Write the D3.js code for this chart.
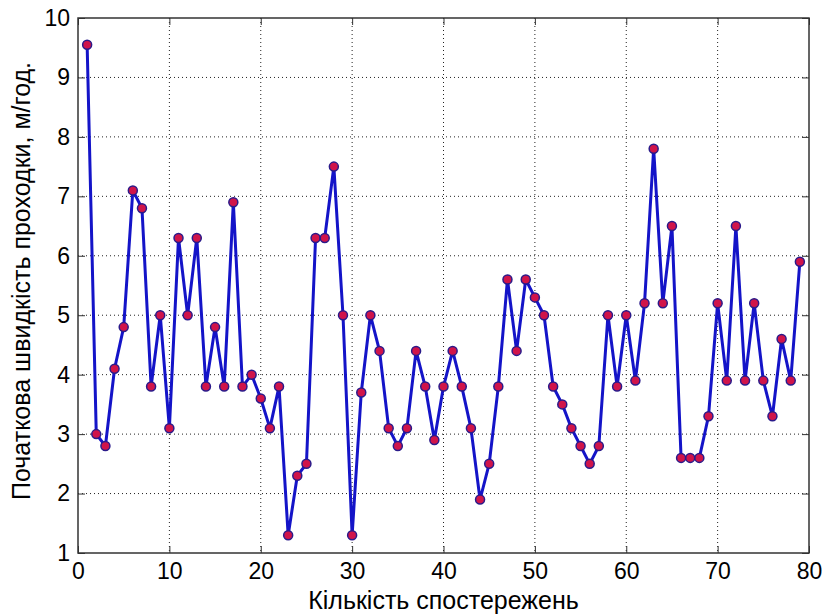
<!DOCTYPE html>
<html>
<head>
<meta charset="utf-8">
<script src="https://cdn.jsdelivr.net/npm/d3@7"></script>
<style>
  body { margin: 0; background: #fff; }
  text { font-family: "Liberation Sans", Arial, sans-serif; fill: #000; }
</style>
</head>
<body>
<svg id="chart" width="827" height="614"></svg>
<script>
// observation numbers 1..79 and measured speed (m/h)
var observations = d3.range(1, 80);
var speeds = [9.55, 3.0, 2.8, 4.1, 4.8, 7.1, 6.8, 3.8, 5.0, 3.1,
              6.3, 5.0, 6.3, 3.8, 4.8, 3.8, 6.9, 3.8, 4.0, 3.6,
              3.1, 3.8, 1.3, 2.3, 2.5, 6.3, 6.3, 7.5, 5.0, 1.3,
              3.7, 5.0, 4.4, 3.1, 2.8, 3.1, 4.4, 3.8, 2.9, 3.8,
              4.4, 3.8, 3.1, 1.9, 2.5, 3.8, 5.6, 4.4, 5.6, 5.3,
              5.0, 3.8, 3.5, 3.1, 2.8, 2.5, 2.8, 5.0, 3.8, 5.0,
              3.9, 5.2, 7.8, 5.2, 6.5, 2.6, 2.6, 2.6, 3.3, 5.2,
              3.9, 6.5, 3.9, 5.2, 3.9, 3.3, 4.6, 3.9, 5.9];
var xTicks = [0, 10, 20, 30, 40, 50, 60, 70, 80];
var yTicks = [1, 2, 3, 4, 5, 6, 7, 8, 9, 10];
var xLabel = "Кількість спостережень";
var yLabel = "Початкова швидкість проходки, м/год.";

(function(){
	var svg = d3.select('#chart');
	var pl = 78, pr = 809, pt = 18, pb = 553;

	var x = d3.scaleLinear().domain([0, 80]).range([pl, pr]);
	var y = d3.scaleLinear().domain([1, 10]).range([pb, pt]);

	// dotted grid
	svg.append('g').selectAll('line')
		.data(xTicks.slice(1, -1))
	  .enter().append('line')
		.attr('x1', function(d){ return x(d); })
		.attr('x2', function(d){ return x(d); })
		.attr('y1', pt).attr('y2', pb)
		.attr('stroke', '#222').attr('stroke-width', 1)
		.attr('stroke-dasharray', '1,3');
	svg.append('g').selectAll('line')
		.data(yTicks.slice(1, -1))
	  .enter().append('line')
		.attr('y1', function(d){ return y(d); })
		.attr('y2', function(d){ return y(d); })
		.attr('x1', pl).attr('x2', pr)
		.attr('stroke', '#222').attr('stroke-width', 1)
		.attr('stroke-dasharray', '1,3');

	// axes with inward ticks on all four sides
	var tickLen = 7;
	svg.append('g')
		.attr('transform', 'translate(0,' + pb + ')')
		.call(d3.axisBottom(x).tickValues(xTicks).tickSizeInner(-tickLen).tickSizeOuter(0).tickPadding(10))
		.call(function(g){ g.selectAll('text').attr('font-size', 23); });
	svg.append('g')
		.attr('transform', 'translate(0,' + pt + ')')
		.call(d3.axisTop(x).tickValues(xTicks).tickSizeInner(-tickLen).tickSizeOuter(0).tickFormat(''));
	svg.append('g')
		.attr('transform', 'translate(' + pl + ',0)')
		.call(d3.axisLeft(y).tickValues(yTicks).tickSizeInner(-tickLen).tickSizeOuter(0).tickPadding(8))
		.call(function(g){ g.selectAll('text').attr('font-size', 23); });
	svg.append('g')
		.attr('transform', 'translate(' + pr + ',0)')
		.call(d3.axisRight(y).tickValues(yTicks).tickSizeInner(-tickLen).tickSizeOuter(0).tickFormat(''));
	svg.selectAll('.domain').remove();
	svg.selectAll('.tick line').attr('stroke', '#333');

	svg.append('rect')
		.attr('x', pl).attr('y', pt)
		.attr('width', pr - pl).attr('height', pb - pt)
		.attr('fill', 'none').attr('stroke', '#333').attr('stroke-width', 1.5);

	// series line
	var line = d3.line()
		.x(function(d, i){ return x(observations[i]); })
		.y(function(d){ return y(d); });
	svg.append('path')
		.datum(speeds)
		.attr('d', line)
		.attr('fill', 'none')
		.attr('stroke', '#1414c8')
		.attr('stroke-width', 3)
		.attr('stroke-linejoin', 'round');

	svg.append('g').selectAll('circle')
		.data(speeds)
	  .enter().append('circle')
		.attr('cx', function(d, i){ return x(observations[i]); })
		.attr('cy', function(d){ return y(d); })
		.attr('r', 4.5)
		.attr('fill', '#d0144a')
		.attr('stroke', '#2a1a8a')
		.attr('stroke-width', 1.5);

	// axis titles
	svg.append('text')
		.attr('x', (pl + pr) / 2).attr('y', 609)
		.attr('text-anchor', 'middle')
		.attr('font-size', 25)
		.text(xLabel);
	svg.append('text')
		.attr('transform', 'translate(30,281) rotate(-90)')
		.attr('text-anchor', 'middle')
		.attr('font-size', 25)
		.text(yLabel);
})();
</script>
</body>
</html>
